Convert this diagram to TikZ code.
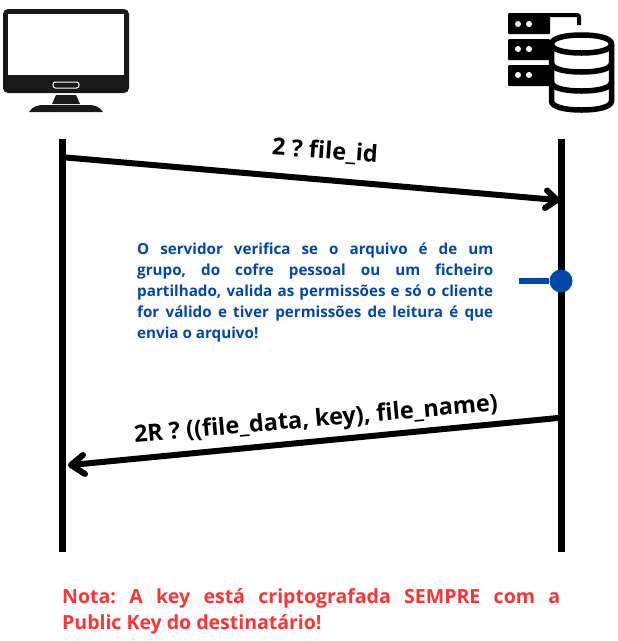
\documentclass[tikz,border=0pt]{standalone}
\usepackage{fontspec}
\setmainfont{Open Sans}
\frenchspacing
\definecolor{noteblue}{HTML}{0047AB}
\definecolor{notered}{HTML}{FF3333}
\newcommand{\cylband}[1]{\draw[cyl] (551.5,#1) .. controls (551.5,#1+6) and (565,#1+9) .. (581.5,#1+9) .. controls (598,#1+9) and (611.5,#1+6) .. (611.5,#1);}
\tikzset{
  lifeline/.style={line width=7pt},
  msg/.style={line width=6pt},
  msghead/.style={line width=6pt,line cap=round,line join=round},
  msglabel/.style={font=\bfseries\fontsize{23.5}{26}\selectfont,text=black,inner sep=0pt},
  bluetext/.style={font=\bfseries\fontsize{15.2}{21}\selectfont,text=noteblue,text width=356pt,align=justify,inner sep=0pt,anchor=north west},
  redtext/.style={font=\bfseries\fontsize{19.5}{26}\selectfont,text=notered,text width=498pt,align=justify,inner sep=0pt,anchor=north west},
  cyl/.style={black,line width=5.5pt},
}
\begin{document}
\begin{tikzpicture}[x=1pt,y=-1pt]
\useasboundingbox (0,0) rectangle (618,641);
% monitor
\fill[rounded corners=5pt,black!90] (3,9) rectangle (129,93);
\fill[white] (8,14) rectangle (124,75);
\draw[white,line width=1pt,rounded corners=2.5pt] (53,82) rectangle (79,88);
\fill[black!90] (56,95) -- (76,95) -- (80,104) -- (52,104) -- cycle;
\fill[black!90] (29,112) .. controls (33,106) and (38,105) .. (44,105) -- (88,105) .. controls (94,105) and (99,106) .. (103,112) -- cycle;
% server
\fill[black,rounded corners=1pt] (508,13) rectangle (550,34);
\draw[black,line width=4pt,rounded corners=2pt] (545,15) -- (579,15) -- (579,25);
\fill[black,rounded corners=1pt] (508,39) rectangle (550,60);
\fill[black,rounded corners=1pt] (508,65) rectangle (550,86);
\foreach \yy in {24,49,75}{
  \fill[white] (518,\yy) circle (3pt);
  \fill[white] (529,\yy) circle (3pt);
}
% cylinder
\draw[cyl,fill=white] (551.5,44) .. controls (551.5,38) and (565,35) .. (581.5,35) .. controls (598,35) and (611.5,38) .. (611.5,44) -- (611.5,101) .. controls (611.5,107) and (598,110) .. (581.5,110) .. controls (565,110) and (551.5,107) .. (551.5,101) -- cycle;
\cylband{44}
\cylband{63}
\cylband{82}
% lifelines
\coordinate (ct) at (62,138.5);
\coordinate (cb) at (62,552);
\coordinate (st) at (561,138.5);
\coordinate (sb) at (561,552);
\draw[lifeline] (ct) -- (cb);
\draw[lifeline] (st) -- (sb);
% messages
\coordinate (m1a) at (66,157.5);
\coordinate (m1b) at (557,200);
\draw[msg] (m1a) -- (m1b);
\draw[msghead] (547,190.5) -- (m1b) -- (545,208);
\node[msglabel,rotate=-4] (l1) at (325,151.5) {2 ? file\_id};
\coordinate (m2a) at (558,418);
\coordinate (m2b) at (71,465);
\draw[msg] (m2a) -- (m2b);
\draw[msghead] (83,455) -- (m2b) -- (85,474);
\node[msglabel,rotate=5] (l2) at (316,420.5) {2R ? ((file\_data, key), file\_name)};
% blue note
\coordinate (stub) at (518.5,281);
\node[circle,fill=noteblue,minimum size=23pt,inner sep=0pt] (dot) at (561,281) {};
\draw[noteblue,line width=6pt] (stub) -- (dot);
\node[bluetext] (note) at (137,243) {O servidor verifica se o arquivo é de um\linebreak grupo, do cofre pessoal ou um ficheiro\linebreak partilhado, valida as permissões e só o cliente\linebreak for válido e tiver permissões de leitura é que\linebreak envia o arquivo!};
\node[redtext] (nota) at (62,588.5) {Nota: A key está criptografada SEMPRE com a\linebreak Public Key do destinatário!};
\end{tikzpicture}
\end{document}
